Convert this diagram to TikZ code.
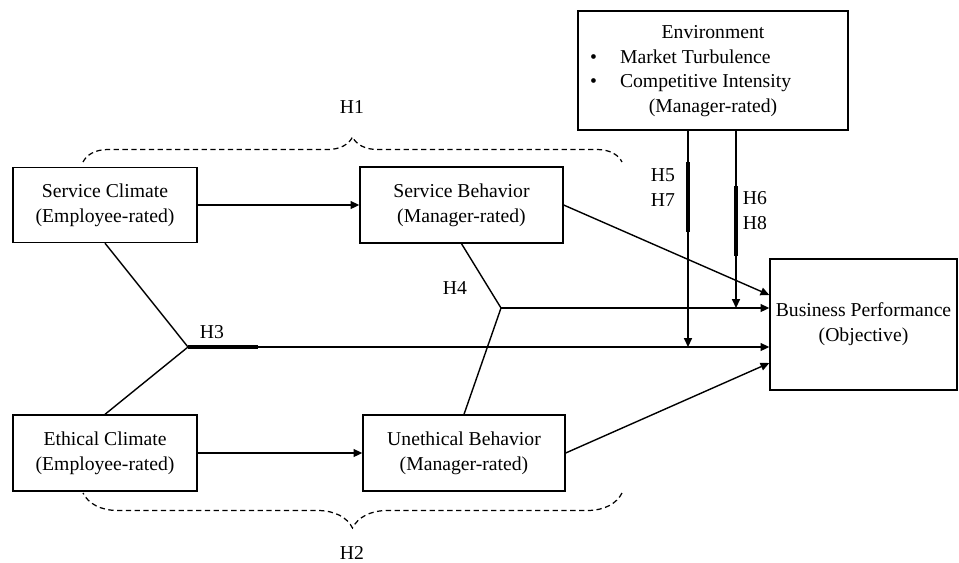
\documentclass[tikz,border=0pt]{standalone}
\usepackage{fontspec}
\setmainfont{Liberation Serif}
\usepackage{tikz}
\usetikzlibrary{arrows.meta, calc, decorations.pathreplacing}
\tikzstyle{box} = [draw, line width=0.8pt, minimum width=3.68cm, minimum height=1.52cm, align=center, inner sep=0pt, font=\fontsize{11.2}{14.2}\selectfont]
\tikzstyle{arrow} = [line width=0.8pt, -{Triangle[length=5pt,width=4.5pt]}]
\tikzstyle{line} = [line width=0.8pt]
\tikzstyle{thickline} = [line width=1.8pt]
\tikzstyle{hlabel} = [font=\fontsize{11.2}{14.2}\selectfont, inner sep=0pt, align=center]
\tikzstyle{hbrace} = [line width=0.7pt, dash pattern=on 3pt off 2pt, decorate]

\begin{document}
\begin{tikzpicture}[x=0.02cm, y=-0.02cm]
    \useasboundingbox (0,0) rectangle (959,562);

    \node[box, minimum height=1.5cm] (SC) at (105,205) {Service Climate\\(Employee-rated)};
    \node[box, minimum width=4.06cm] (SB) at (461.5,205) {Service Behavior\\(Manager-rated)};
    \node[box] (EC) at (105,453) {Ethical Climate\\(Employee-rated)};
    \node[box, minimum width=4.04cm] (UB) at (464,453) {Unethical Behavior\\(Manager-rated)};
    \node[box, minimum width=5.4cm, minimum height=2.38cm] (ENV) at (713,70.5) {%
        \begin{tabular}{@{}p{0.6cm}@{}p{3.44cm}@{}p{0.88cm}@{}}
        \multicolumn{3}{@{}c@{}}{Environment}\\
        \textbullet & Market Turbulence & \\
        \textbullet & Competitive Intensity & \\
        \multicolumn{3}{@{}c@{}}{(Manager-rated)}
        \end{tabular}};
    \node[box, minimum width=3.74cm, minimum height=2.62cm] (BP) at (863.5,324.5) {Business Performance\\(Objective)};

    \coordinate (J3) at (188,347);
    \coordinate (J4) at (501,308);
    \coordinate (E1) at (ENV.south -| 688,0);
    \coordinate (E2) at (ENV.south -| 736,0);

    \draw[arrow] (SC.east) -- (SB.west);
    \draw[arrow] (EC.east) -- (UB.west);
    \draw[arrow] (SB.east) -- (BP.west |- 0,295);
    \draw[arrow] (UB.east) -- (BP.west |- 0,363);

    \draw[line] (SC.south) -- (J3) -- (EC.north);
    \draw[arrow] (J3) -- (J3 -| BP.west);
    \draw[thickline] (J3) -- ++(70,0);

    \draw[line] (SB.south) -- (J4) -- (UB.north);
    \draw[arrow] (J4) -- (J4 -| BP.west);

    \draw[arrow] (E1) -- (E1 |- J3);
    \draw[arrow] (E2) -- (E2 |- J4);
    \draw[thickline] (688,162) -- (688,232);
    \draw[thickline] (736,186) -- (736,256);

    \coordinate (B1a) at (83,162);
    \coordinate (B1b) at (622,162);
    \coordinate (B2a) at (622,493);
    \coordinate (B2b) at (83,493);
    \draw[hbrace, decoration={brace, amplitude=0.5cm}] (B1a) -- (B1b);
    \draw[hbrace, decoration={brace, amplitude=0.7cm}] (B2a) -- (B2b);

    \node[hlabel] (H1) at (352,107) {H1};
    \node[hlabel] (H2) at (352,553) {H2};
    \node[hlabel] (H3) at (212,332) {H3};
    \node[hlabel] (H4) at (455,288) {H4};
    \node[hlabel] (H57) at (663,187.5) {H5\\H7};
    \node[hlabel] (H68) at (755,211) {H6\\H8};
\end{tikzpicture}
\end{document}
